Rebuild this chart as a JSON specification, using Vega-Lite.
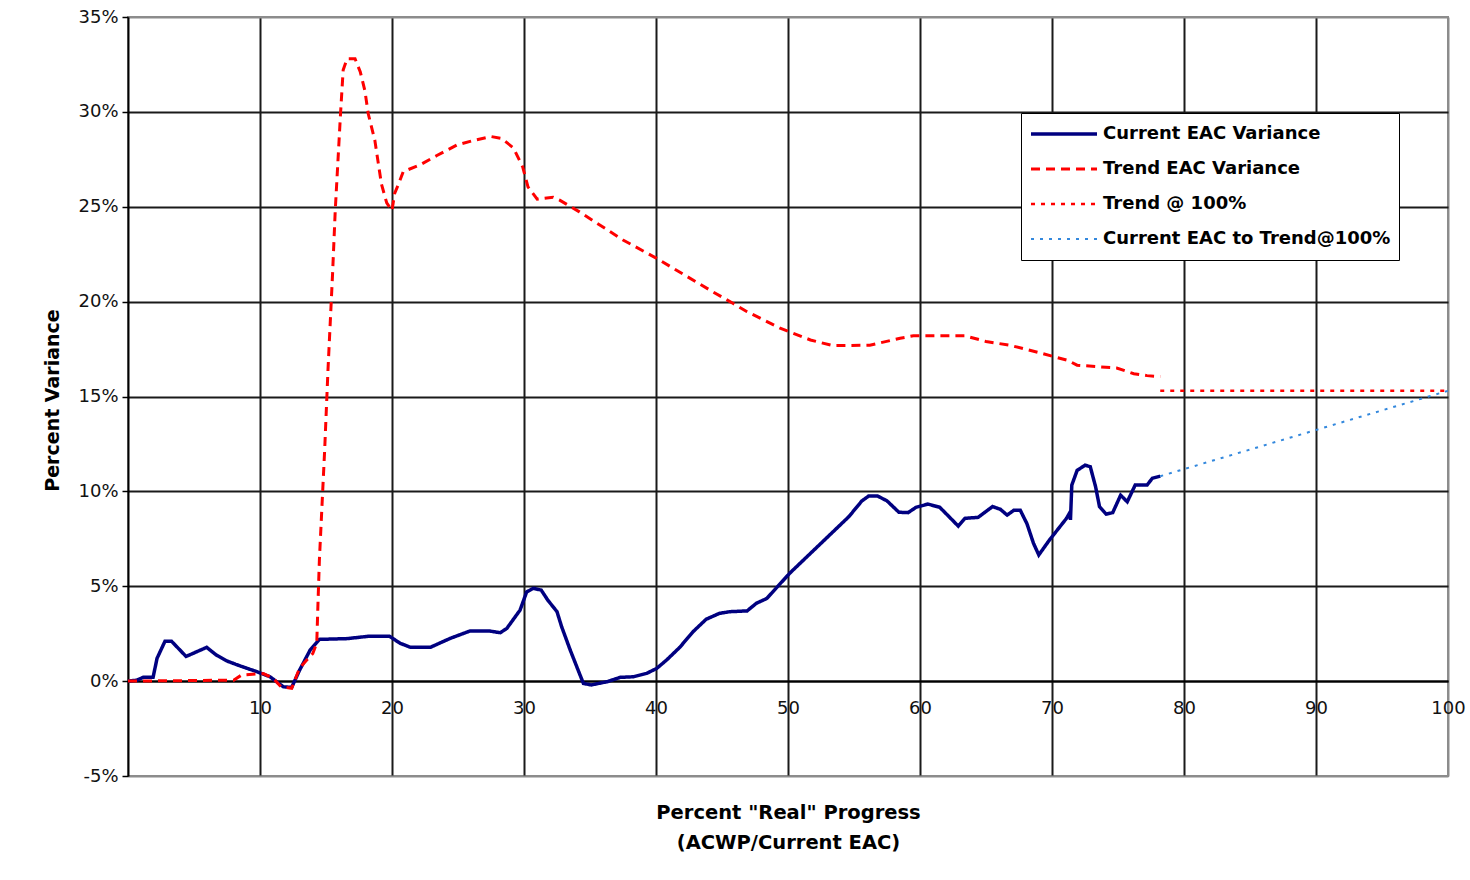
{
  "$schema": "https://vega.github.io/schema/vega-lite/v6.json",
  "autosize": "none",
  "width": 1320,
  "height": 759,
  "padding": {"left": 128, "top": 17, "right": 22, "bottom": 104},
  "background": "white",
  "config": {
    "view": {"stroke": "#8c8c8c", "strokeWidth": 2},
    "axis": {"labelFont": "DejaVu Sans", "labelFontSize": 18, "labelColor": "#111", "titleFont": "DejaVu Sans", "titleFontWeight": "bold", "titleColor": "#000"},
    "legend": {
      "title": null, "orient": "none", "legendX": 893, "legendY": 96,
      "padding": 8, "fillColor": "white", "strokeColor": "#000",
      "labelFont": "DejaVu Sans", "labelFontSize": 18, "labelFontWeight": "bold", "labelColor": "#000",
      "symbolType": "stroke", "symbolSize": 4356, "labelOffset": 4, "rowPadding": 9, "labelLimit": 400,
      "clipHeight": 26
    }
  },
  "data": {
    "values": [
      {"series": "Current EAC Variance", "x": 0, "v": 0},
      {"series": "Current EAC Variance", "x": 0.66, "v": 0.05},
      {"series": "Current EAC Variance", "x": 1.16, "v": 0.2},
      {"series": "Current EAC Variance", "x": 1.9, "v": 0.2},
      {"series": "Current EAC Variance", "x": 2.2, "v": 1.2},
      {"series": "Current EAC Variance", "x": 2.8, "v": 2.1},
      {"series": "Current EAC Variance", "x": 3.3, "v": 2.1},
      {"series": "Current EAC Variance", "x": 4.4, "v": 1.3},
      {"series": "Current EAC Variance", "x": 5.96, "v": 1.78},
      {"series": "Current EAC Variance", "x": 6.7, "v": 1.37},
      {"series": "Current EAC Variance", "x": 7.5, "v": 1.06},
      {"series": "Current EAC Variance", "x": 8.5, "v": 0.8},
      {"series": "Current EAC Variance", "x": 9.75, "v": 0.5},
      {"series": "Current EAC Variance", "x": 10.76, "v": 0.23},
      {"series": "Current EAC Variance", "x": 11.77, "v": -0.3},
      {"series": "Current EAC Variance", "x": 12.4, "v": -0.33},
      {"series": "Current EAC Variance", "x": 13.0, "v": 0.58},
      {"series": "Current EAC Variance", "x": 13.8, "v": 1.64},
      {"series": "Current EAC Variance", "x": 14.5, "v": 2.2},
      {"series": "Current EAC Variance", "x": 16.6, "v": 2.24},
      {"series": "Current EAC Variance", "x": 18.3, "v": 2.37},
      {"series": "Current EAC Variance", "x": 19.8, "v": 2.37},
      {"series": "Current EAC Variance", "x": 20.6, "v": 2.0},
      {"series": "Current EAC Variance", "x": 21.4, "v": 1.78},
      {"series": "Current EAC Variance", "x": 22.9, "v": 1.78},
      {"series": "Current EAC Variance", "x": 24.4, "v": 2.25},
      {"series": "Current EAC Variance", "x": 25.9, "v": 2.64},
      {"series": "Current EAC Variance", "x": 27.4, "v": 2.64},
      {"series": "Current EAC Variance", "x": 28.2, "v": 2.55},
      {"series": "Current EAC Variance", "x": 28.7, "v": 2.78},
      {"series": "Current EAC Variance", "x": 29.7, "v": 3.74},
      {"series": "Current EAC Variance", "x": 30.2, "v": 4.7},
      {"series": "Current EAC Variance", "x": 30.7, "v": 4.89},
      {"series": "Current EAC Variance", "x": 31.3, "v": 4.8},
      {"series": "Current EAC Variance", "x": 31.8, "v": 4.27},
      {"series": "Current EAC Variance", "x": 32.5, "v": 3.66},
      {"series": "Current EAC Variance", "x": 32.85, "v": 2.87},
      {"series": "Current EAC Variance", "x": 33.5, "v": 1.64},
      {"series": "Current EAC Variance", "x": 34.1, "v": 0.58},
      {"series": "Current EAC Variance", "x": 34.5, "v": -0.12},
      {"series": "Current EAC Variance", "x": 35.1, "v": -0.2},
      {"series": "Current EAC Variance", "x": 36.3, "v": -0.03},
      {"series": "Current EAC Variance", "x": 37.3, "v": 0.2},
      {"series": "Current EAC Variance", "x": 38.3, "v": 0.23},
      {"series": "Current EAC Variance", "x": 39.3, "v": 0.41},
      {"series": "Current EAC Variance", "x": 40.05, "v": 0.67},
      {"series": "Current EAC Variance", "x": 40.8, "v": 1.11},
      {"series": "Current EAC Variance", "x": 41.8, "v": 1.78},
      {"series": "Current EAC Variance", "x": 42.8, "v": 2.6},
      {"series": "Current EAC Variance", "x": 43.8, "v": 3.26},
      {"series": "Current EAC Variance", "x": 44.8, "v": 3.57},
      {"series": "Current EAC Variance", "x": 45.6, "v": 3.66},
      {"series": "Current EAC Variance", "x": 46.9, "v": 3.7},
      {"series": "Current EAC Variance", "x": 47.6, "v": 4.1},
      {"series": "Current EAC Variance", "x": 48.4, "v": 4.36},
      {"series": "Current EAC Variance", "x": 49.1, "v": 4.9},
      {"series": "Current EAC Variance", "x": 50.15, "v": 5.7},
      {"series": "Current EAC Variance", "x": 54.6, "v": 8.66},
      {"series": "Current EAC Variance", "x": 55.6, "v": 9.5},
      {"series": "Current EAC Variance", "x": 56.1, "v": 9.75},
      {"series": "Current EAC Variance", "x": 56.8, "v": 9.75},
      {"series": "Current EAC Variance", "x": 57.5, "v": 9.5},
      {"series": "Current EAC Variance", "x": 58.4, "v": 8.9},
      {"series": "Current EAC Variance", "x": 59.1, "v": 8.88},
      {"series": "Current EAC Variance", "x": 59.7, "v": 9.16},
      {"series": "Current EAC Variance", "x": 60.6, "v": 9.33},
      {"series": "Current EAC Variance", "x": 61.5, "v": 9.16},
      {"series": "Current EAC Variance", "x": 62.9, "v": 8.17},
      {"series": "Current EAC Variance", "x": 63.4, "v": 8.58},
      {"series": "Current EAC Variance", "x": 64.4, "v": 8.63},
      {"series": "Current EAC Variance", "x": 65.5, "v": 9.2},
      {"series": "Current EAC Variance", "x": 66.1, "v": 9.05},
      {"series": "Current EAC Variance", "x": 66.6, "v": 8.75},
      {"series": "Current EAC Variance", "x": 67.1, "v": 9.0},
      {"series": "Current EAC Variance", "x": 67.6, "v": 9.0},
      {"series": "Current EAC Variance", "x": 68.1, "v": 8.3},
      {"series": "Current EAC Variance", "x": 68.6, "v": 7.26},
      {"series": "Current EAC Variance", "x": 69.0, "v": 6.65},
      {"series": "Current EAC Variance", "x": 69.8, "v": 7.43},
      {"series": "Current EAC Variance", "x": 71.1, "v": 8.58},
      {"series": "Current EAC Variance", "x": 71.35, "v": 8.88},
      {"series": "Current EAC Variance", "x": 71.4, "v": 8.5},
      {"series": "Current EAC Variance", "x": 71.5, "v": 10.33},
      {"series": "Current EAC Variance", "x": 71.9, "v": 11.1},
      {"series": "Current EAC Variance", "x": 72.5, "v": 11.38},
      {"series": "Current EAC Variance", "x": 72.9, "v": 11.3},
      {"series": "Current EAC Variance", "x": 73.3, "v": 10.25},
      {"series": "Current EAC Variance", "x": 73.6, "v": 9.19},
      {"series": "Current EAC Variance", "x": 74.1, "v": 8.8},
      {"series": "Current EAC Variance", "x": 74.6, "v": 8.88},
      {"series": "Current EAC Variance", "x": 75.2, "v": 9.8},
      {"series": "Current EAC Variance", "x": 75.7, "v": 9.45},
      {"series": "Current EAC Variance", "x": 76.3, "v": 10.33},
      {"series": "Current EAC Variance", "x": 77.2, "v": 10.33},
      {"series": "Current EAC Variance", "x": 77.6, "v": 10.69},
      {"series": "Current EAC Variance", "x": 78.2, "v": 10.8},

      {"series": "Trend EAC Variance", "x": 0, "v": 0},
      {"series": "Trend EAC Variance", "x": 8.0, "v": 0.05},
      {"series": "Trend EAC Variance", "x": 8.6, "v": 0.32},
      {"series": "Trend EAC Variance", "x": 10.25, "v": 0.4},
      {"series": "Trend EAC Variance", "x": 11.0, "v": 0.15},
      {"series": "Trend EAC Variance", "x": 11.6, "v": -0.3},
      {"series": "Trend EAC Variance", "x": 12.4, "v": -0.38},
      {"series": "Trend EAC Variance", "x": 13.0, "v": 0.69},
      {"series": "Trend EAC Variance", "x": 14.0, "v": 1.46},
      {"series": "Trend EAC Variance", "x": 14.3, "v": 2.0},
      {"series": "Trend EAC Variance", "x": 14.4, "v": 4.27},
      {"series": "Trend EAC Variance", "x": 14.5, "v": 6.4},
      {"series": "Trend EAC Variance", "x": 14.9, "v": 12.2},
      {"series": "Trend EAC Variance", "x": 15.15, "v": 16.4},
      {"series": "Trend EAC Variance", "x": 15.5, "v": 21.5},
      {"series": "Trend EAC Variance", "x": 15.7, "v": 24.8},
      {"series": "Trend EAC Variance", "x": 16.1, "v": 29.9},
      {"series": "Trend EAC Variance", "x": 16.3, "v": 32.2},
      {"series": "Trend EAC Variance", "x": 16.6, "v": 32.8},
      {"series": "Trend EAC Variance", "x": 17.2, "v": 32.8},
      {"series": "Trend EAC Variance", "x": 17.6, "v": 32.1},
      {"series": "Trend EAC Variance", "x": 17.95, "v": 31.1},
      {"series": "Trend EAC Variance", "x": 18.2, "v": 29.9},
      {"series": "Trend EAC Variance", "x": 18.7, "v": 28.5},
      {"series": "Trend EAC Variance", "x": 18.96, "v": 27.3},
      {"series": "Trend EAC Variance", "x": 19.2, "v": 26.2},
      {"series": "Trend EAC Variance", "x": 19.6, "v": 25.2},
      {"series": "Trend EAC Variance", "x": 20.0, "v": 24.8},
      {"series": "Trend EAC Variance", "x": 20.2, "v": 25.7},
      {"series": "Trend EAC Variance", "x": 20.5, "v": 26.2},
      {"series": "Trend EAC Variance", "x": 20.85, "v": 26.85},
      {"series": "Trend EAC Variance", "x": 22.1, "v": 27.2},
      {"series": "Trend EAC Variance", "x": 23.4, "v": 27.7},
      {"series": "Trend EAC Variance", "x": 24.9, "v": 28.25},
      {"series": "Trend EAC Variance", "x": 26.2, "v": 28.5},
      {"series": "Trend EAC Variance", "x": 27.5, "v": 28.7},
      {"series": "Trend EAC Variance", "x": 28.3, "v": 28.6},
      {"series": "Trend EAC Variance", "x": 29.2, "v": 28.1},
      {"series": "Trend EAC Variance", "x": 29.9, "v": 27.1},
      {"series": "Trend EAC Variance", "x": 30.3, "v": 26.05},
      {"series": "Trend EAC Variance", "x": 31.0, "v": 25.4},
      {"series": "Trend EAC Variance", "x": 32.2, "v": 25.5},
      {"series": "Trend EAC Variance", "x": 32.7, "v": 25.35},
      {"series": "Trend EAC Variance", "x": 34.2, "v": 24.73},
      {"series": "Trend EAC Variance", "x": 37.5, "v": 23.25},
      {"series": "Trend EAC Variance", "x": 40.05, "v": 22.28},
      {"series": "Trend EAC Variance", "x": 44.1, "v": 20.6},
      {"series": "Trend EAC Variance", "x": 45.85, "v": 19.9},
      {"series": "Trend EAC Variance", "x": 46.9, "v": 19.47},
      {"series": "Trend EAC Variance", "x": 49.4, "v": 18.6},
      {"series": "Trend EAC Variance", "x": 51.7, "v": 17.98},
      {"series": "Trend EAC Variance", "x": 53.4, "v": 17.68},
      {"series": "Trend EAC Variance", "x": 56.2, "v": 17.7},
      {"series": "Trend EAC Variance", "x": 58.5, "v": 18.07},
      {"series": "Trend EAC Variance", "x": 59.5, "v": 18.2},
      {"series": "Trend EAC Variance", "x": 63.4, "v": 18.2},
      {"series": "Trend EAC Variance", "x": 65.0, "v": 17.9},
      {"series": "Trend EAC Variance", "x": 66.8, "v": 17.7},
      {"series": "Trend EAC Variance", "x": 69.1, "v": 17.3},
      {"series": "Trend EAC Variance", "x": 71.2, "v": 16.9},
      {"series": "Trend EAC Variance", "x": 71.9, "v": 16.65},
      {"series": "Trend EAC Variance", "x": 74.9, "v": 16.5},
      {"series": "Trend EAC Variance", "x": 76.2, "v": 16.2},
      {"series": "Trend EAC Variance", "x": 77.2, "v": 16.1},
      {"series": "Trend EAC Variance", "x": 78.2, "v": 16.05},

      {"series": "Trend @ 100%", "x": 78.2, "v": 15.3},
      {"series": "Trend @ 100%", "x": 100, "v": 15.3},

      {"series": "Current EAC to Trend@100%", "x": 78.2, "v": 10.8},
      {"series": "Current EAC to Trend@100%", "x": 100, "v": 15.3}
    ]
  },
  "mark": {"type": "line", "interpolate": "linear", "clip": true},
  "encoding": {
    "x": {
      "field": "x", "type": "quantitative",
      "scale": {"domain": [0, 100], "nice": false, "zero": false},
      "axis": {
        "values": [10, 20, 30, 40, 50, 60, 70, 80, 90, 100],
        "offset": -95,
        "domainColor": "#000", "domainWidth": 2,
        "ticks": false, "labelPadding": 27, "labelBaseline": "middle",
        "grid": true, "gridWidth": 2,
        "gridColor": {"condition": {"test": "datum.value == 100", "value": "#8c8c8c"}, "value": "#1a1a1a"},
        "labelFlush": false, "labelOverlap": false,
        "title": ["Percent \"Real\" Progress", "(ACWP/Current EAC)"],
        "titleFontSize": 19.5, "titleX": 660, "titleY": 137, "titleAlign": "center", "titleBaseline": "alphabetic", "titleLineHeight": 30
      }
    },
    "y": {
      "field": "v", "type": "quantitative",
      "scale": {"domain": [-5, 35], "nice": false, "zero": false},
      "axis": {
        "values": [-5, 0, 5, 10, 15, 20, 25, 30, 35],
        "labelExpr": "datum.value + '%'",
        "domainColor": "#000", "domainWidth": 2,
        "tickColor": "#000", "tickSize": 6, "tickWidth": 1.5, "labelPadding": 4,
        "grid": true, "gridWidth": 2,
        "gridColor": {"condition": {"test": "datum.value == 35 || datum.value == -5", "value": "#8c8c8c"}, "value": "#1a1a1a"},
        "labelFlush": false, "labelOverlap": false,
        "title": "Percent Variance", "titleFontSize": 19,
        "titleX": -76, "titleY": 383, "titleAngle": 270, "titleAlign": "center", "titleBaseline": "middle"
      }
    },
    "color": {
      "field": "series", "type": "nominal",
      "scale": {"domain": ["Current EAC Variance", "Trend EAC Variance", "Trend @ 100%", "Current EAC to Trend@100%"], "range": ["#000080", "#ff0000", "#ff0000", "#3388dd"]}
    },
    "strokeDash": {
      "field": "series", "type": "nominal",
      "scale": {"domain": ["Current EAC Variance", "Trend EAC Variance", "Trend @ 100%", "Current EAC to Trend@100%"], "range": [[1, 0], [9, 6], [4, 6], [3, 6]]}
    },
    "strokeWidth": {
      "field": "series", "type": "nominal",
      "scale": {"domain": ["Current EAC Variance", "Trend EAC Variance", "Trend @ 100%", "Current EAC to Trend@100%"], "range": [3.5, 2, 2, 2]}
    },
    "order": {"field": "x", "type": "quantitative"}
  }
}
